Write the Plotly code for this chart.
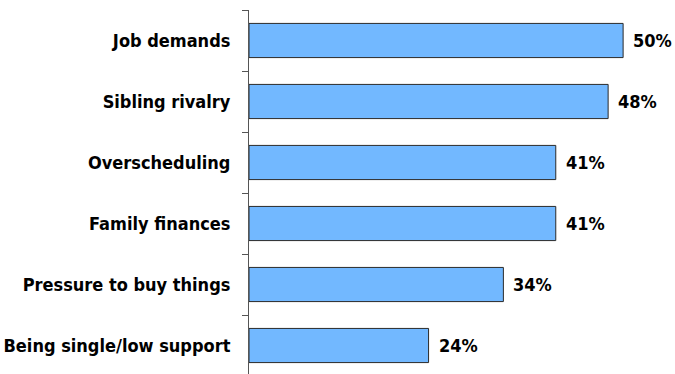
import plotly.graph_objects as go

categories = ["Job demands", "Sibling rivalry", "Overscheduling", "Family finances",
              "Pressure to buy things", "Being single/low support"]
values = [50, 48, 41, 41, 34, 24]
value_labels = [f"{v}%" for v in values]

FONT = "DejaVu Sans Condensed, Liberation Sans Narrow, Arial Narrow, sans-serif"

fig = go.Figure(go.Bar(
    x=values, y=categories, orientation="h",
    width=0.56,
    marker=dict(color="#72B8FF", line=dict(color="#2a2a2a", width=1)),
    hoverinfo="skip",
))

for c, v, t in zip(categories, values, value_labels):
    fig.add_annotation(x=v, y=c, text=f"<b>{t}</b>", showarrow=False,
                       xanchor="left", yanchor="middle", xshift=8,
                       font=dict(family=FONT, size=18, color="#000"))

fig.update_layout(
    width=675, height=374,
    margin=dict(l=249, r=7, t=10, b=0, autoexpand=False),
    paper_bgcolor="white", plot_bgcolor="white",
    showlegend=False,
    xaxis=dict(range=[0, 56], visible=False, showgrid=False, zeroline=False,
               automargin=False),
    yaxis=dict(
        categoryorder="array", categoryarray=categories,
        range=[5.467, -0.5], automargin=False,
        tickson="boundaries", ticks="outside", ticklen=6, tickcolor="#555",
        ticklabelstandoff=14,
        showline=True, linecolor="#555", linewidth=1,
        showgrid=False, zeroline=False,
        tickfont=dict(family=FONT, size=18, color="#000"),
        tickprefix="<b>", ticksuffix="</b>",
    ),
)

fig.write_html("out.html")
